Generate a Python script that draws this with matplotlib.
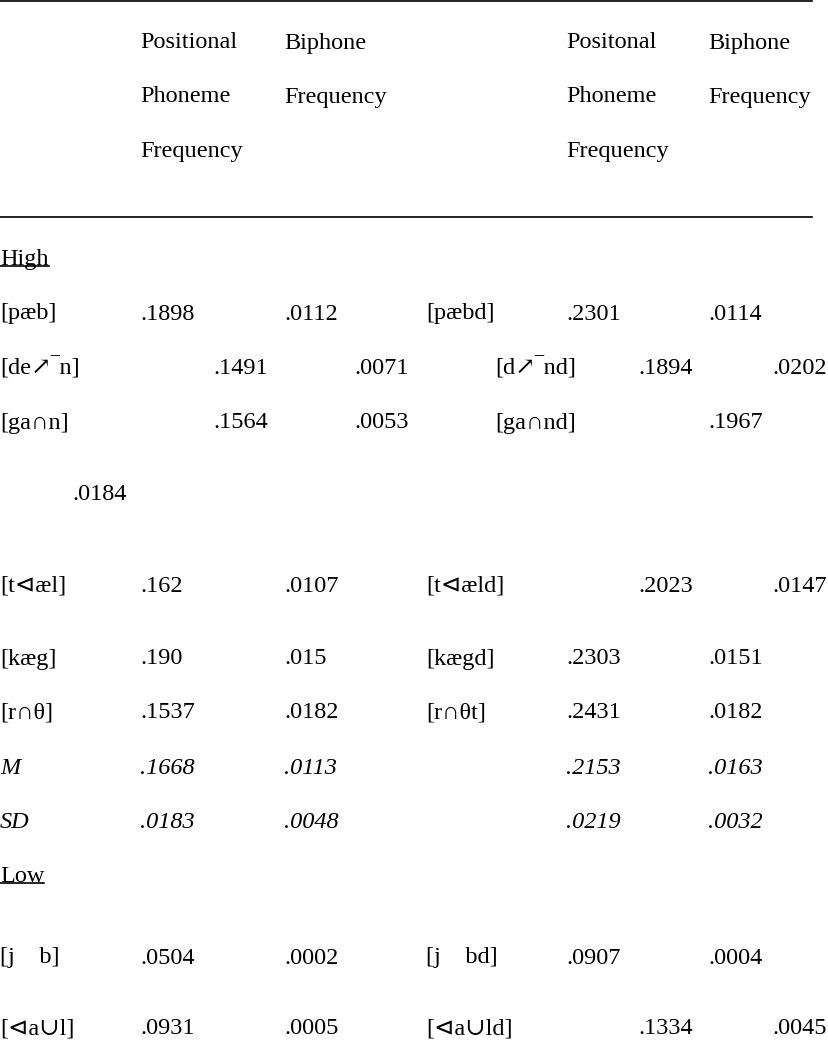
import matplotlib.pyplot as plt

# header text
head_left = [["Positional", "Phoneme", "Frequency"], ["Biphone", "Frequency"]]
head_right = [["Positonal", "Phoneme", "Frequency"], ["Biphone", "Frequency"]]

# high frequency items: word, positional, biphone, word, positional, biphone
high_words = ["[pæb]", "[de↗‾n]", "[ga∩n]", "[t⊲æl]", "[kæg]", "[r∩θ]"]
high_pos = [".1898", ".1491", ".1564", ".162", ".190", ".1537"]
high_bi = [".0112", ".0071", ".0053", ".0107", ".015", ".0182"]
high_words2 = ["[pæbd]", "[d↗‾nd]", "[ga∩nd]", "[t⊲æld]", "[kægd]", "[r∩θt]"]
high_pos2 = [".2301", ".1894", ".1967", ".2023", ".2303", ".2431"]
high_bi2 = [".0114", ".0202", ".0184", ".0147", ".0151", ".0182"]

stat_labels = ["M", "SD"]
stat_pos = [".1668", ".0183"]
stat_bi = [".0113", ".0048"]
stat_pos2 = [".2153", ".0219"]
stat_bi2 = [".0163", ".0032"]

low_words = ["[j    b]", "[⊲a∪l]"]
low_pos = [".0504", ".0931"]
low_bi = [".0002", ".0005"]
low_words2 = ["[j    bd]", "[⊲a∪ld]"]
low_pos2 = [".0907", ".1334"]
low_bi2 = [".0004", ".0045"]

# layout (pixels)
fam = ["Liberation Serif", "DejaVu Serif", "DejaVu Sans", "Noto Sans"]
fs = 17.5
col = [0, 140, 284, 426, 566, 708]
head_y = [43, 97, 151]

# per high row: x of each cell (irregular layout from source)
high_y = [314, 368, 423, 586, 659, 713]
high_x = [
    [0, 140, 284, 426, 566, 708],
    [0, 213, 354, 495, 638, 772],
    [0, 213, 354, 495, 708, 72],
    [0, 140, 284, 426, 638, 772],
    [0, 140, 284, 426, 566, 708],
    [0, 140, 284, 426, 566, 708],
]
high_bi2_y = [314, 368, 495, 586, 659, 713]
stat_y = [768, 822]
low_y = [958, 1029]
low_x = [
    [0, 140, 284, 426, 566, 708],
    [0, 140, 284, 426, 638, 772],
]

fig = plt.figure(figsize=(8.29, 10.5), dpi=100)
ax = fig.add_axes([0, 0, 1, 1])
ax.set_xlim(0, 829)
ax.set_ylim(1050, 0)
ax.axis("off")


def put(x, y, s, **kw):
    return ax.text(x, y, s, family=fam, fontsize=fs, va="center", ha="left", **kw)


# rules
ax.plot([0, 812], [0.8, 0.8], color="black", lw=1.2)
ax.plot([0, 812], [217, 217], color="black", lw=1.2)

# headers
for lines, x in zip(head_left + head_right, [col[1], col[2], col[4], col[5]]):
    for s, y in zip(lines, head_y):
        put(x, y, s)

high_t = put(0, 259, "High")

for i in range(len(high_words)):
    xs = high_x[i]
    y = high_y[i]
    put(xs[0], y, high_words[i])
    put(xs[1], y, high_pos[i])
    put(xs[2], y, high_bi[i])
    put(xs[3], y, high_words2[i])
    put(xs[4], y, high_pos2[i])
    put(xs[5], high_bi2_y[i], high_bi2[i])

for i in range(len(stat_labels)):
    y = stat_y[i]
    put(0, y, stat_labels[i], style="italic")
    put(col[1], y, stat_pos[i], style="italic")
    put(col[2], y, stat_bi[i], style="italic")
    put(col[4], y, stat_pos2[i], style="italic")
    put(col[5], y, stat_bi2[i], style="italic")

low_t = put(0, 876, "Low")

for i in range(len(low_words)):
    xs = low_x[i]
    y = low_y[i]
    put(xs[0], y, low_words[i])
    put(xs[1], y, low_pos[i])
    put(xs[2], y, low_bi[i])
    put(xs[3], y, low_words2[i])
    put(xs[4], y, low_pos2[i])
    put(xs[5], y, low_bi2[i])

# underline High / Low
fig.canvas.draw()
r = fig.canvas.get_renderer()
inv = ax.transData.inverted()
for t in (high_t, low_t):
    bb = t.get_window_extent(r)
    (x0, y0), (x1, y1) = inv.transform([[bb.x0, bb.y0], [bb.x1, bb.y1]])
    ax.plot([x0, x1], [y0 - 4, y0 - 4], color="black", lw=1.2)

fig.savefig("out.png", dpi=100)
